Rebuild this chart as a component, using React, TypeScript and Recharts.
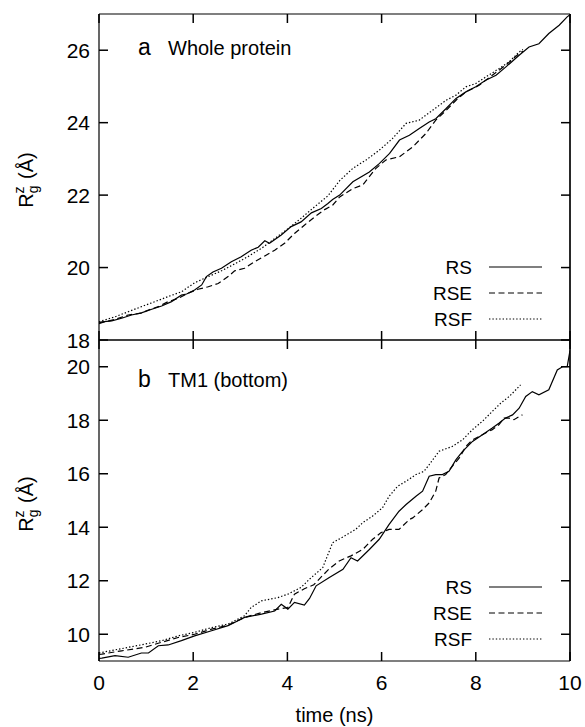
import { LineChart, Line, XAxis, YAxis, Legend, ReferenceLine } from "recharts";

// time ticks and y ticks for both panels
const timeTicks = [0, 2, 4, 6, 8, 10];
const topTicks = [18, 20, 22, 24, 26];
const bottomTicks = [10, 12, 14, 16, 18, 20];

// panel a: whole protein, [time ns, Rg z]
const topRS = [
  [0, 18.47], [0.06, 18.5], [0.27, 18.53], [0.48, 18.6], [0.69, 18.69], [0.9, 18.75],
  [1.12, 18.85], [1.33, 18.94], [1.54, 19.06], [1.75, 19.24], [1.86, 19.27], [2.03, 19.38],
  [2.18, 19.52], [2.28, 19.75], [2.42, 19.88], [2.6, 19.98], [2.81, 20.16], [3.02, 20.3],
  [3.23, 20.48], [3.38, 20.56], [3.52, 20.74], [3.62, 20.67], [3.87, 20.9], [4.08, 21.13],
  [4.29, 21.26], [4.51, 21.51], [4.72, 21.63], [4.86, 21.77], [4.96, 21.88], [5.11, 22.0],
  [5.39, 22.37], [5.74, 22.64], [5.95, 22.87], [6.17, 23.15], [6.38, 23.52], [6.59, 23.65],
  [6.8, 23.84], [7.01, 24.02], [7.15, 24.11], [7.37, 24.39], [7.58, 24.67], [7.79, 24.85],
  [8.0, 24.99], [8.21, 25.17], [8.43, 25.31], [8.64, 25.54], [8.92, 25.86], [9.13, 26.09],
  [9.34, 26.18], [9.55, 26.46], [9.77, 26.69], [9.94, 26.92], [10, 26.98],
];
const topRSE = [
  [0, 18.45], [0.06, 18.48], [0.34, 18.57], [0.62, 18.69], [0.9, 18.74], [1.05, 18.83],
  [1.26, 18.92], [1.47, 19.06], [1.68, 19.15], [1.89, 19.29], [2.1, 19.4], [2.32, 19.47],
  [2.53, 19.56], [2.74, 19.75], [2.88, 19.91], [3.09, 19.98], [3.3, 20.16], [3.52, 20.32],
  [3.73, 20.48], [3.94, 20.67], [4.15, 20.94], [4.36, 21.17], [4.58, 21.4], [4.79, 21.6],
  [4.96, 21.72], [5.11, 21.95], [5.39, 22.18], [5.6, 22.28], [5.88, 22.74], [6.09, 22.97],
  [6.38, 23.06], [6.66, 23.33], [6.94, 23.7], [7.15, 24.07], [7.37, 24.34], [7.58, 24.62],
  [7.79, 24.85], [8.07, 25.03], [8.35, 25.31], [8.64, 25.59], [8.92, 25.91], [9.0, 25.97],
];
const topRSF = [
  [0, 18.5], [0.06, 18.53], [0.34, 18.64], [0.62, 18.78], [0.9, 18.92], [1.19, 19.06],
  [1.47, 19.2], [1.75, 19.33], [2.03, 19.58], [2.32, 19.75], [2.6, 19.91], [2.88, 20.1],
  [3.16, 20.3], [3.45, 20.53], [3.73, 20.8], [4.02, 21.08], [4.29, 21.36], [4.58, 21.68],
  [4.86, 21.98], [5.11, 22.4], [5.39, 22.74], [5.67, 22.97], [5.95, 23.24], [6.23, 23.56],
  [6.52, 23.98], [6.8, 24.07], [7.08, 24.34], [7.37, 24.62], [7.58, 24.76], [7.79, 24.99],
  [8.0, 25.08], [8.21, 25.26], [8.49, 25.49], [8.71, 25.68], [8.92, 25.95], [9.0, 26.02],
];

// panel b: TM1 (bottom)
const botRS = [
  [0, 9.1], [0.06, 9.11], [0.34, 9.2], [0.62, 9.14], [0.9, 9.3], [1.05, 9.3], [1.26, 9.57],
  [1.47, 9.6], [1.75, 9.76], [2.03, 9.94], [2.39, 10.13], [2.74, 10.32], [3.09, 10.63],
  [3.45, 10.75], [3.73, 10.87], [3.87, 11.12], [4.01, 10.94], [4.15, 11.19], [4.36, 11.09],
  [4.47, 11.34], [4.61, 11.81], [4.89, 12.12], [5.18, 12.43], [5.35, 12.86], [5.49, 12.74],
  [5.74, 13.17], [5.95, 13.55], [6.16, 14.11], [6.37, 14.6], [6.52, 14.85], [6.73, 15.16],
  [6.87, 15.35], [7.01, 15.91], [7.15, 15.97], [7.29, 15.97], [7.43, 16.09], [7.58, 16.53],
  [7.72, 16.84], [7.93, 17.21], [8.14, 17.46], [8.35, 17.71], [8.49, 17.89], [8.63, 18.08],
  [8.78, 18.2], [8.92, 18.45], [9.06, 18.89], [9.2, 19.07], [9.34, 18.95], [9.55, 19.14],
  [9.73, 19.88], [9.84, 20.0], [9.94, 20.0], [10, 20.6],
];
const botRSE = [
  [0, 9.25], [0.06, 9.26], [0.48, 9.38], [0.97, 9.51], [1.33, 9.7], [1.68, 9.88], [2.03, 10.0],
  [2.39, 10.19], [2.74, 10.34], [3.09, 10.63], [3.45, 10.81], [3.8, 10.94], [4.01, 11.0],
  [4.15, 11.5], [4.36, 11.7], [4.56, 11.85], [4.75, 12.2], [4.89, 12.45], [5.1, 12.74],
  [5.35, 12.93], [5.6, 13.17], [5.81, 13.55], [5.99, 13.8], [6.16, 13.92], [6.37, 13.92],
  [6.59, 14.29], [6.66, 14.35], [6.87, 14.66], [7.01, 14.91], [7.15, 15.35], [7.22, 15.84],
  [7.36, 15.97], [7.5, 16.28], [7.65, 16.59], [7.79, 17.02], [7.93, 17.27], [8.14, 17.46],
  [8.35, 17.65], [8.49, 17.83], [8.6, 18.08], [8.71, 18.08], [8.81, 18.02], [8.92, 18.14],
  [8.99, 18.2],
];
const botRSF = [
  [0, 9.3], [0.06, 9.32], [0.62, 9.51], [0.97, 9.63], [1.33, 9.76], [1.68, 9.94], [2.03, 10.07],
  [2.39, 10.25], [2.74, 10.38], [3.09, 10.69], [3.23, 11.0], [3.45, 11.25], [3.8, 11.37],
  [4.01, 11.5], [4.29, 11.75], [4.47, 12.06], [4.75, 12.49], [4.96, 13.42], [5.24, 13.7],
  [5.45, 13.92], [5.6, 14.17], [5.81, 14.42], [6.02, 14.73], [6.16, 15.16], [6.34, 15.53],
  [6.52, 15.72], [6.73, 15.97], [6.9, 16.09], [7.01, 16.34], [7.22, 16.84], [7.5, 17.02],
  [7.72, 17.27], [7.93, 17.65], [8.14, 17.96], [8.35, 18.33], [8.53, 18.64], [8.71, 18.89],
  [8.85, 19.14], [8.95, 19.32],
];

const seriesNames = ["RS", "RSE", "RSF"];
const dashes = [undefined, "6 3.5", "1.4 2"];
// RSF sits on the top/right axis pair (same domains) so the frame axes get their ticks
const xAxisOf = ["b", "b", "t"];
const yAxisOf = ["l", "l", "r"];

const FONT = "'Liberation Sans', Arial, Helvetica, sans-serif";
const TICK = 9;

const toPoints = (arr: number[][]) => arr.map(([t, v]) => ({ t, v }));

const LeftTick = (p: any) => (
  <g>
    <line x1={p.x} x2={p.x + TICK} y1={p.y} y2={p.y} stroke="#000" strokeWidth={1.5} />
    <text x={p.x - 9} y={p.y + 7.5} textAnchor="end" fontSize={21} fontFamily={FONT} fill="#000">
      {p.payload.value}
    </text>
  </g>
);
const RightTick = (p: any) => (
  <g>
    <line x1={p.x} x2={p.x - TICK} y1={p.y} y2={p.y} stroke="#000" strokeWidth={1.5} />
  </g>
);
const TopTick = (p: any) => (
  <g>
    <line x1={p.x} x2={p.x} y1={p.y} y2={p.y + TICK} stroke="#000" strokeWidth={1.5} />
  </g>
);
const BottomTickBare = (p: any) => (
  <g>
    <line x1={p.x} x2={p.x} y1={p.y} y2={p.y - TICK} stroke="#000" strokeWidth={1.5} />
  </g>
);
const BottomTick = (p: any) => (
  <g>
    <line x1={p.x} x2={p.x} y1={p.y} y2={p.y - TICK} stroke="#000" strokeWidth={1.5} />
    <text x={p.x} y={p.y + 29} textAnchor="middle" fontSize={21} fontFamily={FONT} fill="#000">
      {p.payload.value}
    </text>
  </g>
);

const LegendBox = () => (
  <svg width={150} height={80}>
    {seriesNames.map((n, i) => (
      <g key={n}>
        <text x={72} y={17 + i * 26 + 6.5} textAnchor="end" fontSize={19} fontFamily={FONT} fill="#000">
          {n}
        </text>
        <line x1={89} x2={142} y1={17 + i * 26} y2={17 + i * 26} stroke="#000" strokeWidth={1.2} strokeDasharray={dashes[i]} />
      </g>
    ))}
  </svg>
);

const YLabel = ({ cy }: { cy: number }) => (
  <text transform={`translate(33, ${cy}) rotate(-90)`} textAnchor="middle" fontSize={20} fontFamily={FONT} fill="#000">
    <tspan>R</tspan>
    <tspan fontSize={14} dy={5}>g</tspan>
    <tspan fontSize={14} dx={-8} dy={-14}>z</tspan>
    <tspan dx={2} dy={9}> (Å)</tspan>
  </text>
);

const Panel = ({
  data,
  yTicks,
  domain,
  height,
  margin,
  bottomLabels,
  title,
  subtitle,
  titleY,
  legendTop,
  labelY,
}: any) => (
  <LineChart width={585} height={height} margin={margin}>
    <XAxis
      xAxisId="b"
      dataKey="t"
      type="number"
      domain={[0, 10]}
      ticks={timeTicks}
      allowDataOverflow
      axisLine={{ stroke: "#000", strokeWidth: 1.2 }}
      tickLine={false}
      tickSize={0}
      tickMargin={0}
      height={bottomLabels ? 66 : 1}
      tick={bottomLabels ? <BottomTick /> : <BottomTickBare />}
      interval={0}
      label={
        bottomLabels
          ? { value: "time (ns)", position: "insideBottom", offset: 5, fontSize: 20, fill: "#000", fontFamily: FONT }
          : undefined
      }
    />
    <XAxis
      xAxisId="t"
      orientation="top"
      dataKey="t"
      type="number"
      domain={[0, 10]}
      ticks={timeTicks}
      allowDataOverflow
      axisLine={{ stroke: "#000", strokeWidth: 1.2 }}
      tickLine={false}
      tickSize={0}
      tickMargin={0}
      height={1}
      tick={<TopTick />}
      interval={0}
    />
    <YAxis
      yAxisId="l"
      type="number"
      domain={domain}
      ticks={yTicks}
      allowDataOverflow
      axisLine={{ stroke: "#000", strokeWidth: 1.2 }}
      tickLine={false}
      tickSize={0}
      tickMargin={0}
      width={99}
      tick={<LeftTick />}
      interval={0}
    />
    <YAxis
      yAxisId="r"
      orientation="right"
      type="number"
      domain={domain}
      ticks={yTicks}
      allowDataOverflow
      axisLine={{ stroke: "#000", strokeWidth: 1.2 }}
      tickLine={false}
      tickSize={0}
      tickMargin={0}
      width={1}
      tick={<RightTick />}
      interval={0}
    />
    {/* right edge of the frame, at the end of the time domain */}
    <ReferenceLine x={10} xAxisId="b" yAxisId="l" stroke="#000" strokeWidth={1.2} />
    {data.map((d: number[][], i: number) => (
      <Line
        key={seriesNames[i]}
        data={toPoints(d)}
        dataKey="v"
        xAxisId={xAxisOf[i]}
        yAxisId={yAxisOf[i]}
        dot={false}
        stroke="#000"
        strokeWidth={1.2}
        strokeDasharray={dashes[i]}
        isAnimationActive={false}
      />
    ))}
    <Legend
      layout="vertical"
      verticalAlign="middle"
      align="center"
      content={() => <LegendBox />}
      wrapperStyle={{ position: "absolute", left: 400, top: legendTop, width: 150, height: 80 }}
    />
    <text x={138} y={titleY} fontSize={23} fontFamily={FONT} fill="#000">
      {title}
    </text>
    <text x={168} y={titleY} fontSize={20} fontFamily={FONT} fill="#000">
      {subtitle}
    </text>
    <YLabel cy={labelY} />
  </LineChart>
);

export default function App() {
  return (
    <div style={{ position: "absolute", left: 0, top: 0, width: 585, height: 727, background: "#fff" }}>
      <div style={{ position: "absolute", left: 0, top: 0 }}>
        <Panel
          data={[topRS, topRSE, topRSF]}
          yTicks={topTicks}
          domain={[18, 27]}
          height={350}
          margin={{ top: 13, right: 14, bottom: 9, left: 0 }}
          bottomLabels={false}
          title="a"
          subtitle="Whole protein"
          titleY={55}
          legendTop={250}
          labelY={180}
        />
      </div>
      <div style={{ position: "absolute", left: 0, top: 330 }}>
        <Panel
          data={[botRS, botRSE, botRSF]}
          yTicks={bottomTicks}
          domain={[9, 21]}
          height={397}
          margin={{ top: 9, right: 14, bottom: 0, left: 0 }}
          bottomLabels
          title="b"
          subtitle="TM1 (bottom)"
          titleY={57}
          legendTop={240}
          labelY={174}
        />
      </div>
    </div>
  );
}
